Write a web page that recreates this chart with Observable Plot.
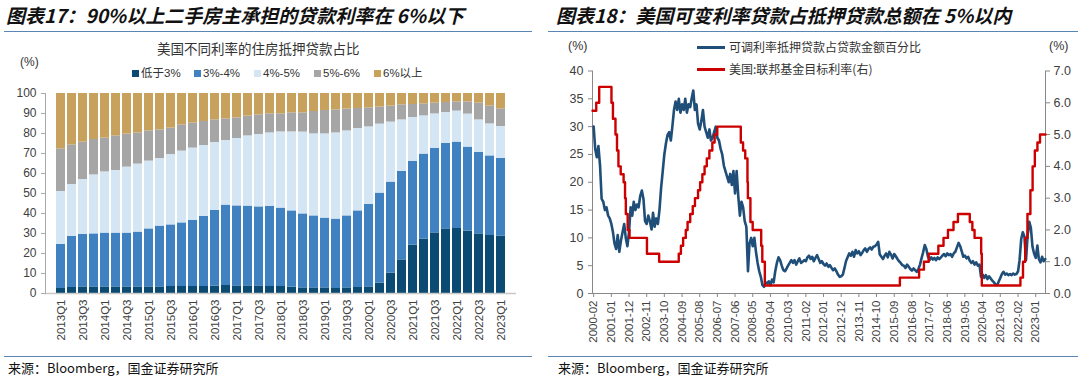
<!DOCTYPE html>
<html><head><meta charset="utf-8">
<script src="https://cdn.jsdelivr.net/npm/d3@7"></script>
<script src="https://cdn.jsdelivr.net/npm/@observablehq/plot@0.6"></script>
<style>
body{margin:0;background:#fff;}
#root{position:relative;width:1080px;height:380px;overflow:hidden;font-family:"Liberation Sans",Arial,"Noto Sans CJK SC",sans-serif;color:#333}
.abs{position:absolute;white-space:nowrap;line-height:1}
.title{font-family:"Noto Sans CJK SC";font-weight:bold;font-style:italic;font-size:19px;color:#111;top:5px}
.rule{position:absolute;height:0;border-top:1.5px solid #5a86b4}
.src{font-family:"Noto Sans CJK SC";font-size:13px;top:361px;color:#111}
.sub{font-family:"Noto Sans CJK SC";font-size:13.5px;color:#333}
.lg{font-family:"Liberation Sans","Noto Sans CJK SC";font-size:11.5px;color:#333}
.sw{position:absolute;width:7px;height:7px}
.ln{position:absolute;height:0;border-top:3px solid}
svg{position:absolute}
</style></head><body><div id="root"></div>
<script>
// ---------- Left chart data ----------
const quarters = ["2013Q1","2013Q2","2013Q3","2013Q4","2014Q1","2014Q2","2014Q3","2014Q4","2015Q1","2015Q2","2015Q3","2015Q4","2016Q1","2016Q2","2016Q3","2016Q4","2017Q1","2017Q2","2017Q3","2017Q4","2018Q1","2018Q2","2018Q3","2018Q4","2019Q1","2019Q2","2019Q3","2019Q4","2020Q1","2020Q2","2020Q3","2020Q4","2021Q1","2021Q2","2021Q3","2021Q4","2022Q1","2022Q2","2022Q3","2022Q4","2023Q1"];
const quarterTicks = ["2013Q1","2013Q3","2014Q1","2014Q3","2015Q1","2015Q3","2016Q1","2016Q3","2017Q1","2017Q3","2018Q1","2018Q3","2019Q1","2019Q3","2020Q1","2020Q3","2021Q1","2021Q3","2022Q1","2022Q3","2023Q1"];
const rateCats = ["低于3%","3%-4%","4%-5%","5%-6%","6%以上"];
const rateColors = ["#0b4a72","#3f81c1","#d4e6f4","#a6a6a6","#c8a25c"];
const below3 = [2.5,3.0,3.3,3.3,3.3,3.3,3.3,3.3,3.3,3.3,3.5,3.5,3.5,3.5,3.7,4.0,3.8,3.8,3.8,3.5,3.5,3.2,2.8,2.8,2.8,2.5,2.8,3.0,3.3,5.2,10.2,16.8,24.2,27.2,30.3,32.3,32.5,31.2,29.8,29.0,28.7];
const r3to4 = [22.0,25.5,26.2,26.5,26.9,26.9,26.9,27.4,29.0,30.4,30.8,31.8,33.0,35.0,37.8,40.2,40.0,39.9,39.5,40.0,39.2,38.1,37.0,36.0,34.9,34.7,36.0,38.3,41.2,45.0,45.5,44.2,41.8,42.5,42.2,42.7,43.2,42.0,40.7,39.8,38.8];
const r4to5 = [26.5,26.0,27.5,29.5,30.6,31.3,33.0,34.0,33.9,33.8,35.2,35.9,36.2,35.5,34.0,32.3,33.7,35.1,36.2,36.8,38.1,39.5,40.9,41.0,42.1,43.1,42.5,41.2,38.8,34.5,30.0,25.8,22.0,19.1,17.3,15.5,15.5,16.5,16.3,16.0,16.0];
const r5to6 = [21.3,19.8,18.7,17.7,16.9,17.3,16.5,15.6,15.1,14.3,13.2,13.1,12.5,12.0,11.3,10.8,10.3,9.9,9.8,9.5,9.0,9.5,9.6,11.2,11.7,11.5,10.9,10.0,9.5,8.5,8.0,7.5,6.5,6.0,5.4,5.0,4.6,6.1,8.4,8.9,8.8];
const above6 = [27.7,25.7,24.3,23.0,22.3,21.2,20.3,19.7,18.7,18.2,17.3,15.7,14.8,14.0,13.2,12.7,12.2,11.3,10.7,10.2,10.2,9.7,9.7,9.0,8.5,8.2,7.8,7.5,7.2,6.8,6.3,5.7,5.5,5.2,4.8,4.5,4.2,4.2,4.8,6.3,7.7];
const leftYTicks = [0,10,20,30,40,50,60,70,80,90,100];

// ---------- Right chart data ----------
// monthly ARM share (%), 2000-02 .. 2023-07
const arm2000 = [30,26,24.5,26.5,23,17,16.5,15,15.5,14,13.5]; // Feb-Dec
const arm2001 = [12.5,11,9,8,10.5,7.5,9.5,11,12.5,10,8.5,11];
const arm2002 = [15.5,14,16.5,15,16,15.5,17.5,18.5,17,13,12.5,14];
const arm2003 = [13,11.5,14.5,12,13.5,12.5,15,19,22,25,27,28.5];
const arm2004 = [29,27.5,30,33,34.5,33,35,32.5,34,33,35,32.5];
const arm2005 = [34,33.5,35,36.5,33,34,30.5,29.5,31,33,30,29];
const arm2006 = [28,29.5,27.5,28,29,30,28,27.5,26,25,23,22];
const arm2007 = [21,20,21.5,19.5,22,18,22,17.5,14,16.5,15.5,13];
const arm2008 = [12,4,9,10,8.5,10,7.5,5.5,4,3,1.5,1.2];
const arm2009 = [2,1.8,2.2,1.5,2.5,2,4,5.5,6.5,6,5,4.2];
const arm2010 = [4,4.5,5,5.5,6,5.5,6,5.2,5.8,6.3,5.5,5.7];
const arm2011 = [6,5.8,6.5,6.8,6.2,6.6,5.8,6.4,6.9,6.2,5.5,5.8];
const arm2012 = [5.3,5,5.4,4.8,5.1,4.6,4.2,4.5,4.0,3.4,3.0,3.1];
const arm2013 = [3.4,4.6,5.8,6.5,7.2,6.8,7.5,6.6,7.8,7.2,7.6,6.9];
const arm2014 = [7.3,7.8,8.1,7.5,8,8.3,7.9,8.4,8.5,8.8,9.3,7.0];
const arm2015 = [6.6,6.2,6.8,7.2,6.5,7.5,7,6.3,7.1,6.7,6.2,5.8];
const arm2016 = [5.5,5.1,5.0,4.6,5.2,4.8,4.4,4.1,4.5,4.2,3.9,4.4];
const arm2017 = [5.2,6.4,7.4,8.7,8,6.6,6,6.5,6.1,6.4,6,6.5];
const arm2018 = [6.2,6.5,6.8,7.1,6.7,7.2,6.9,7.1,6.6,7.2,7.5,8.3];
const arm2019 = [9.1,8.5,7.6,6.6,6.8,6.3,6.6,5.9,5.5,5.8,5.2,5.6];
const arm2020 = [5.0,5.2,3.0,3.4,2.8,3.3,2.6,3.1,2.7,2.3,2.0,1.6];
const arm2021 = [1.5,2.2,2.8,3.5,3.9,3.4,3.6,3.3,3.5,3.3,3.6,3.4];
const arm2022 = [3.5,4.0,6.0,9.8,11,10.2,6.0,10.5,12.9,11.8,8.4,7.2];
const arm2023 = [6.4,8.6,6.2,5.6,6.6,5.8,6.2]; // Jan-Jul
// Fed funds target rate (right axis, %), step changes
const fedSteps = [["2000-01-10",5.75],["2000-03-21",6.0],["2000-05-16",6.5],["2001-01-03",6.0],["2001-01-31",5.5],["2001-03-20",5.0],["2001-04-18",4.5],["2001-05-15",4.0],["2001-06-27",3.75],["2001-08-21",3.5],["2001-09-17",3.0],["2001-10-02",2.5],["2001-11-06",2.0],["2001-12-11",1.75],["2002-11-06",1.25],["2003-06-25",1.0],["2004-06-30",1.25],["2004-08-10",1.5],["2004-09-21",1.75],["2004-11-10",2.0],["2004-12-14",2.25],["2005-02-02",2.5],["2005-03-22",2.75],["2005-05-03",3.0],["2005-06-30",3.25],["2005-08-09",3.5],["2005-09-20",3.75],["2005-11-01",4.0],["2005-12-13",4.25],["2006-01-31",4.5],["2006-03-28",4.75],["2006-05-10",5.0],["2006-06-29",5.25],["2007-09-18",4.75],["2007-10-31",4.5],["2007-12-11",4.25],["2008-01-22",3.5],["2008-01-30",3.0],["2008-03-18",2.25],["2008-04-30",2.0],["2008-10-08",1.5],["2008-10-29",1.0],["2008-12-16",0.25],["2015-12-17",0.5],["2016-12-15",0.75],["2017-03-16",1.0],["2017-06-15",1.25],["2017-12-14",1.5],["2018-03-22",1.75],["2018-06-14",2.0],["2018-09-27",2.25],["2018-12-20",2.5],["2019-08-01",2.25],["2019-09-19",2.0],["2019-10-31",1.75],["2020-03-04",1.25],["2020-03-16",0.25],["2022-03-17",0.5],["2022-05-05",1.0],["2022-06-16",1.75],["2022-07-28",2.5],["2022-09-22",3.25],["2022-11-03",4.0],["2022-12-15",4.5],["2023-02-02",4.75],["2023-03-23",5.0],["2023-07-05",5.0]];
const xTickLabels = ["2000-02","2001-01","2001-12","2002-11","2003-10","2004-09","2005-08","2006-07","2007-06","2008-05","2009-04","2010-03","2011-02","2012-01","2012-12","2013-11","2014-10","2015-09","2016-08","2017-07","2018-06","2019-05","2020-04","2021-03","2022-02","2023-01"];
const leftAxisTicks = [0,5,10,15,20,25,30,35,40];
const rightAxisTicks = [0,1,2,3,4,5,6,7];
const seriesNames = ["可调利率抵押贷款占贷款金额百分比","美国:联邦基金目标利率(右)"];

// ---------- Build page ----------
const root = document.getElementById("root");
function add(html){ root.insertAdjacentHTML("beforeend", html); }
add(`<div class="abs title" style="left:6px">图表17：90%以上二手房主承担的贷款利率在 6%以下</div>`);
add(`<div class="abs title" style="left:556px">图表18：美国可变利率贷款占抵押贷款总额在 5%以内</div>`);
add(`<div class="rule" style="left:4px;width:528px;top:31px"></div>`);
add(`<div class="rule" style="left:548px;width:530px;top:31px"></div>`);
add(`<div class="rule" style="left:4px;width:528px;top:356px"></div>`);
add(`<div class="rule" style="left:548px;width:530px;top:356px"></div>`);
add(`<div class="abs src" style="left:8px">来源：Bloomberg，国金证券研究所</div>`);
add(`<div class="abs src" style="left:558px">来源：Bloomberg，国金证券研究所</div>`);

// left chart header
add(`<div class="abs sub" style="left:157px;top:42px">美国不同利率的住房抵押贷款占比</div>`);
add(`<div class="abs lg" style="left:20px;top:56px;font-size:12px">(%)</div>`);
const lgX = [132,194,254,314,374];
rateCats.forEach((c,i)=>{
  add(`<div class="sw" style="left:${lgX[i]}px;top:70px;background:${rateColors[i]}"></div>`);
  add(`<div class="abs lg" style="left:${lgX[i]+9}px;top:68px">${c}</div>`);
});

// right chart header
add(`<div class="abs lg" style="left:568px;top:40px;font-size:12.5px">(%)</div>`);
add(`<div class="abs lg" style="left:1049px;top:40px;font-size:12.5px">(%)</div>`);
const lineColors = ["#1f4e79","#cc0000"];
[41,63].forEach((y,i)=>{
  add(`<div class="ln" style="left:697px;width:28px;top:${y+5}px;border-color:${lineColors[i]}"></div>`);
  add(`<div class="abs lg" style="left:729px;top:${y}px;font-size:12px;font-family:'Noto Sans CJK SC'">${seriesNames[i]}</div>`);
});

// ---------- Left plot ----------
const stackData = [];
const seriesArr = [below3, r3to4, r4to5, r5to6, above6];
quarters.forEach((q, i) => {
  rateCats.forEach((c, k) => stackData.push({q, cat: c, v: seriesArr[k][i]}));
});
const leftPlot = Plot.plot({
  width: 530, height: 270,
  marginTop: 13, marginBottom: 57, marginLeft: 45, marginRight: 14,
  style: {fontFamily: "'Liberation Sans', Arial, sans-serif", fontSize: "12px", color: "#404040", background: "transparent", overflow: "visible"},
  x: {domain: quarters, paddingInner: 0.14, paddingOuter: 0.08, label: null},
  y: {domain: [0, 100], label: null},
  color: {domain: rateCats, range: rateColors},
  marks: [
    Plot.barY(stackData, {x: "q", y: "v", fill: "cat"}),
    Plot.ruleY([0], {stroke: "#c8c8c8", strokeWidth: 1.5}),
    Plot.frame({anchor: "left", stroke: "#aaa"}),
    Plot.axisY({ticks: leftYTicks, tickSize: 4, tickPadding: 5, stroke: "#aaa", label: null}),
    Plot.axisX({ticks: quarterTicks, tickRotate: -90, tickSize: 0, tickPadding: 6, fontSize: 11.5, label: null})
  ]
});
leftPlot.style.left = "0px"; leftPlot.style.top = "80px";
root.appendChild(leftPlot);

// ---------- Right plot ----------
const armYears = [arm2000,arm2001,arm2002,arm2003,arm2004,arm2005,arm2006,arm2007,arm2008,arm2009,arm2010,arm2011,arm2012,arm2013,arm2014,arm2015,arm2016,arm2017,arm2018,arm2019,arm2020,arm2021,arm2022,arm2023];
const armData = [];
armYears.forEach((arr, yi) => {
  const year = 2000 + yi;
  const startMonth = yi === 0 ? 1 : 0;
  arr.forEach((v, j) => armData.push({date: new Date(Date.UTC(year, startMonth + j, 1)), v}));
});
const fedData = fedSteps.map(([d, v]) => ({date: new Date(d + "T00:00:00Z"), v}));
const k = 40 / 7;
const xTicks = xTickLabels.map(s => new Date(s + "-01T00:00:00Z"));
const fmt = d3.utcFormat("%Y-%m");
const rightPlot = Plot.plot({
  width: 540, height: 288,
  marginTop: 10.5, marginBottom: 55, marginLeft: 52, marginRight: 35,
  style: {fontFamily: "'Liberation Sans', Arial, sans-serif", fontSize: "12.5px", color: "#404040", background: "transparent", overflow: "visible"},
  x: {type: "utc", domain: [new Date("2000-01-10T00:00:00Z"), new Date("2023-07-05T00:00:00Z")], label: null},
  y: {domain: [0, 40], label: null},
  marks: [
    Plot.frame({anchor: "left", stroke: "#888"}),
    Plot.frame({anchor: "right", stroke: "#888"}),
    Plot.frame({anchor: "bottom", stroke: "#888"}),
    Plot.axisY({ticks: leftAxisTicks, tickSize: 4, tickPadding: 5, stroke: "#888", label: null}),
    Plot.axisY({anchor: "right", ticks: rightAxisTicks.map(v => v * k), tickFormat: v => (v / k).toFixed(1), tickSize: 4, tickPadding: 4, stroke: "#888", label: null}),
    Plot.axisX({ticks: xTicks, tickFormat: fmt, tickRotate: -90, tickSize: 4, tickPadding: 3, stroke: "#888", fontSize: 11.5, label: null}),
    Plot.line(armData, {x: "date", y: "v", stroke: "#1f4e79", strokeWidth: 2.6, strokeLinejoin: "round"}),
    Plot.line(fedData, {x: "date", y: d => d.v * k, curve: "step-after", stroke: "#cc0000", strokeWidth: 2.4})
  ]
});
rightPlot.style.left = "540px"; rightPlot.style.top = "60px";
root.appendChild(rightPlot);
</script></body></html>
